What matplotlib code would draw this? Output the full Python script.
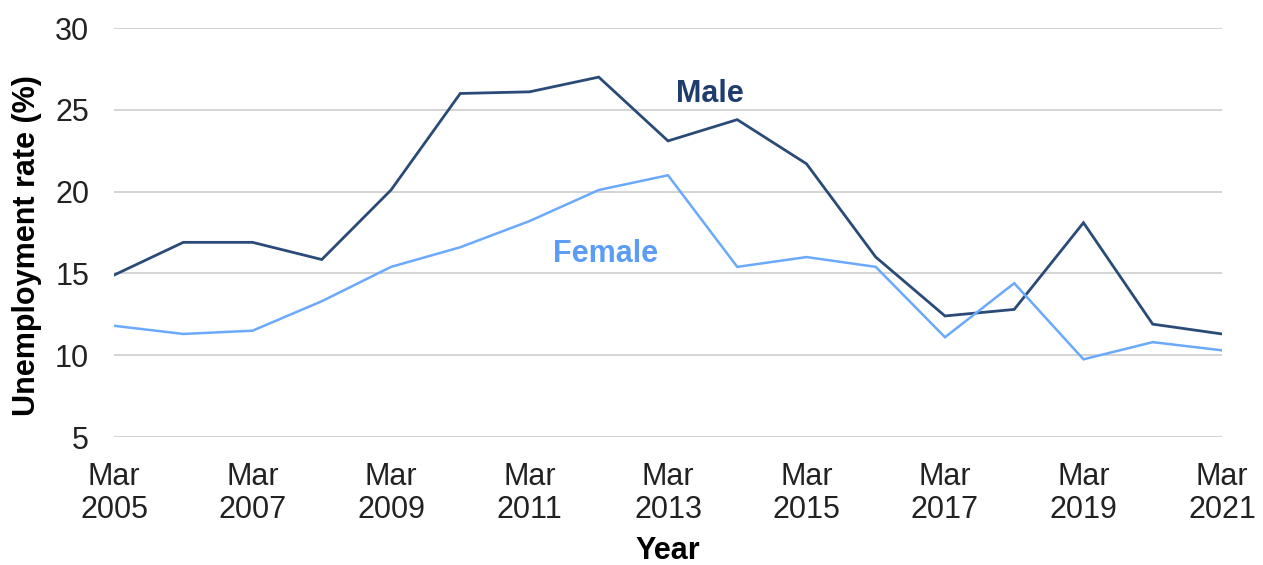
import matplotlib
matplotlib.use("Agg")
import matplotlib.pyplot as plt

plt.rcParams['font.family'] = ['Liberation Sans', 'DejaVu Sans']

years = list(range(2005, 2022))
male = [14.9, 16.9, 16.9, 15.85, 20.1, 26.0, 26.1, 27.0, 23.1, 24.4, 21.7,
        16.0, 12.4, 12.8, 18.1, 11.9, 11.3]
female = [11.8, 11.3, 11.5, 13.3, 15.4, 16.6, 18.2, 20.1, 21.0, 15.4, 16.0,
          15.4, 11.1, 14.4, 9.75, 10.8, 10.3]
tick_years = list(range(2005, 2022, 2))
tick_labels = [f"Mar\n{y}" for y in tick_years]
yticks = [5, 10, 15, 20, 25, 30]

male_color = '#2a4a78'
female_color = '#6aa9fb'

W, H = 1263, 565
fig = plt.figure(figsize=(W / 100, H / 100), dpi=100)
ax = fig.add_axes([0.0903, 0.2265, 0.8772, 0.7239])

ax.plot(years, male, color=male_color, lw=2.0, solid_joinstyle='miter')
ax.plot(years, female, color=female_color, lw=1.8, solid_joinstyle='miter')

ax.set_xlim(2005, 2021)
ax.set_ylim(5, 30)
ax.set_yticks(yticks)
ax.set_yticklabels([str(v) for v in yticks])
ax.set_xticks(tick_years)
ax.set_xticklabels(tick_labels, linespacing=1.15)
ax.tick_params(axis='both', length=0, labelsize=22, colors='#222222')
ax.tick_params(axis='y', pad=18)
ax.tick_params(axis='x', pad=18)
ax.grid(axis='y', color='#d4d4d4', lw=1.4)
ax.set_axisbelow(True)
for s in ax.spines.values():
    s.set_visible(False)

fig.text(27 / W, 1 - 246 / H, 'Unemployment rate (%)', fontsize=22, fontweight='bold',
         rotation=90, ha='center', va='center')
fig.text(668 / W, 1 - 551 / H, 'Year', fontsize=22, fontweight='bold',
         ha='center', va='center')

ax.text(2013.11, 25.95, 'Male', color='#1f3c6e', fontsize=22, fontweight='bold', ha='left', va='center')
ax.text(2011.34, 16.2, 'Female', color='#5b9cf5', fontsize=22, fontweight='bold', ha='left', va='center')

fig.savefig('out.png', dpi=100)
